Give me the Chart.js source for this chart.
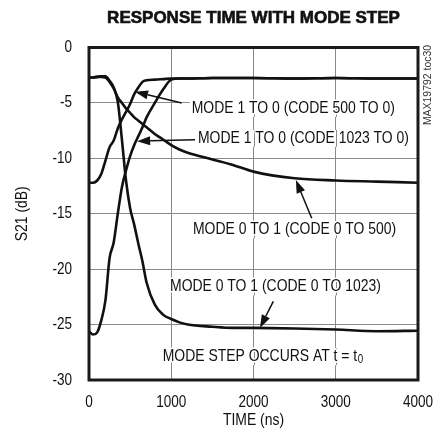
<!DOCTYPE html>
<html>
<head>
<meta charset="utf-8">
<script src="https://cdn.jsdelivr.net/npm/chart.js@4.4.1/dist/chart.umd.min.js"></script>
<style>
html,body{margin:0;padding:0;background:#fff;}
#wrap{width:438px;height:438px;}
</style>
</head>
<body>
<div id="wrap"><canvas id="c" width="438" height="438"></canvas></div>
<script>
// ---- data ----
const timeNs = [0,50,100,150,200,250,300,350,400,450,500,550,600,650,700,800,900,1000,1100,1200,1500,1750,2000,2500,3000,3500,4000];
// MODE 1 TO 0 (CODE 500 TO 0)
const mode1to0code500 = [-12.2,-12.2,-12.0,-11.4,-10.2,-9.0,-8.4,-7.3,-6.5,-5.8,-5.1,-4.2,-3.6,-3.1,-2.95,-2.9,-2.85,-2.8,-2.8,-2.8,-2.75,-2.75,-2.75,-2.8,-2.75,-2.8,-2.8];
// MODE 1 TO 0 (CODE 1023 TO 0)
const mode1to0code1023 = [-25.6,-25.9,-25.7,-24.6,-22.8,-19.0,-17.6,-15.0,-12.6,-11.1,-9.8,-8.8,-8.0,-7.2,-6.3,-5.0,-3.8,-2.9,-2.8,-2.8,-2.75,-2.75,-2.75,-2.8,-2.75,-2.8,-2.8];
// MODE 0 TO 1 (CODE 0 TO 500)
const mode0to1code500 = [-2.7,-2.7,-2.65,-2.65,-2.7,-3.1,-3.7,-4.5,-5.0,-5.5,-5.9,-6.3,-6.6,-6.9,-7.2,-7.8,-8.3,-8.8,-9.2,-9.5,-10.1,-10.6,-11.2,-11.8,-12.0,-12.1,-12.2];
// MODE 0 TO 1 (CODE 0 TO 1023)
const mode0to1code1023 = [-2.7,-2.7,-2.65,-2.6,-2.6,-3.0,-3.6,-4.9,-8.3,-12.0,-14.5,-16.0,-17.7,-19.3,-21.2,-23.2,-24.1,-24.5,-24.8,-25.0,-25.2,-25.3,-25.3,-25.35,-25.45,-25.6,-25.55];

const xTicks = [0,1000,2000,3000,4000];
const yTicks = [0,-5,-10,-15,-20,-25,-30];

const chartTitle = 'RESPONSE TIME WITH MODE STEP';
const xTitle = 'TIME (ns)';
const yTitle = 'S21 (dB)';
const sideCode = 'MAX19792 toc30';
const labelTexts = ['MODE 1 TO 0 (CODE 500 TO 0)','MODE 1 TO 0 (CODE 1023 TO 0)','MODE 0 TO 1 (CODE 0 TO 500)','MODE 0 TO 1 (CODE 0 TO 1023)','MODE STEP OCCURS AT t = t'];

// annotation anchors in data units (time ns, dB)
const annos = [
  {text:labelTexts[0], x:1249, y:-5.45, from:[1127,-5.0], to:[559,-4.0], boxEnd:4000},
  {text:labelTexts[1], x:1325, y:-8.15, from:[1289,-8.33], to:[585,-8.45]},
  {text:labelTexts[2], x:1264, y:-16.4, from:[2708,-15.4], to:[2515,-11.95]},
  {text:labelTexts[3], x:985,  y:-21.55, from:[2241,-22.9], to:[2079,-25.3]},
  {text:labelTexts[4], x:896,  y:-27.85, sub:'0'}
];

const FAM = "'Liberation Sans',Arial,sans-serif";
const SX = 0.82; // condensed look

function mk(ys){ return timeNs.map((t,i)=>({x:t,y:ys[i]})); }
const seriesList = [mode1to0code500, mode1to0code1023, mode0to1code500, mode0to1code1023];

function txt(ctx, s, x, y, size, align, opts){
  opts = opts || {};
  ctx.save();
  ctx.font = (opts.bold?'bold ':'') + size + 'px ' + FAM;
  ctx.textAlign = align; ctx.textBaseline = 'middle';
  ctx.fillStyle = opts.color || '#111';
  ctx.translate(x, y);
  if (opts.rot) ctx.rotate(opts.rot);
  ctx.scale(opts.sx || SX, 1);
  if (opts.halo){ ctx.lineWidth = opts.halo; ctx.strokeStyle = '#fff'; ctx.lineJoin='round'; ctx.strokeText(s,0,0); }
  ctx.fillText(s, 0, 0);
  if (opts.stroke){ ctx.lineWidth = opts.stroke; ctx.strokeStyle = ctx.fillStyle; ctx.strokeText(s,0,0); }
  ctx.restore();
}
function txtW(ctx, s, size){
  ctx.save(); ctx.font = size + 'px ' + FAM; const w = ctx.measureText(s).width * SX; ctx.restore(); return w;
}

const annoPlugin = {
  id:'annoPlugin',
  beforeDatasetsDraw(chart){
    const ctx = chart.ctx, xs = chart.scales.x, ys = chart.scales.y;
    annos.forEach(a=>{
      const px = xs.getPixelForValue(a.x), py = ys.getPixelForValue(a.y);
      let w = txtW(ctx, a.text, 17);
      const tw = w;
      if (a.sub) w += 7;
      let right = px + w + 2;
      if (a.boxEnd) right = xs.getPixelForValue(a.boxEnd);
      ctx.save();
      ctx.fillStyle = '#fff';
      ctx.fillRect(px-2, py-8, right-px+2, 17);
      // vertical grid lines stay visible through the label area
      ctx.strokeStyle = '#8a8a8a'; ctx.lineWidth = 1;
      xs.ticks.forEach(t=>{
        const gx = Math.round(xs.getPixelForValue(t.value)) + 0.5;
        if (gx > px-2 && gx < right && t.value > 0 && t.value < 4000){
          ctx.beginPath(); ctx.moveTo(gx, py-8); ctx.lineTo(gx, py+9); ctx.stroke();
        }
      });
      ctx.restore();
      txt(ctx, a.text, px, py, 17, 'left', {halo:3});
      if (a.sub) txt(ctx, a.sub, px+tw+0.5, py+4, 12, 'left', {halo:2});
    });
  },
  afterDatasetsDraw(chart){
    const ctx = chart.ctx, xs = chart.scales.x, ys = chart.scales.y, ca = chart.chartArea;
    ctx.save();
    ctx.strokeStyle = '#111'; ctx.fillStyle = '#111'; ctx.lineWidth = 1.5;
    annos.forEach(a=>{
      if(!a.from) return;
      const x1 = xs.getPixelForValue(a.from[0]), y1 = ys.getPixelForValue(a.from[1]);
      const x2 = xs.getPixelForValue(a.to[0]), y2 = ys.getPixelForValue(a.to[1]);
      const ang = Math.atan2(y2-y1, x2-x1);
      const L = 13, H = 4.5;
      const bx = x2 - L*Math.cos(ang), by = y2 - L*Math.sin(ang);
      ctx.beginPath(); ctx.moveTo(x1,y1); ctx.lineTo(bx,by); ctx.stroke();
      ctx.beginPath();
      ctx.moveTo(x2,y2);
      ctx.lineTo(bx + H*Math.sin(ang), by - H*Math.cos(ang));
      ctx.lineTo(bx - H*Math.sin(ang), by + H*Math.cos(ang));
      ctx.closePath(); ctx.fill();
    });
    ctx.lineWidth = 3; ctx.strokeStyle = '#1a1a1a';
    ctx.strokeRect(ca.left, ca.top, ca.right-ca.left, ca.bottom-ca.top);
    ctx.restore();
  },
  afterDraw(chart){
    const ctx = chart.ctx, ca = chart.chartArea, xs = chart.scales.x, ys = chart.scales.y;
    // tick labels placed through the chart's own scales
    xs.ticks.forEach(t=> txt(ctx, String(t.value), xs.getPixelForValue(t.value), 402, 16.5, 'center'));
    ys.ticks.forEach(t=> txt(ctx, String(t.value), 72, ys.getPixelForValue(t.value), 16.5, 'right'));
    txt(ctx, xTitle, (ca.left+ca.right)/2, 420, 17, 'center');
    txt(ctx, yTitle, 22, (ca.top+ca.bottom)/2, 17, 'center', {rot:-Math.PI/2});
    txt(ctx, chartTitle, (ca.left+ca.right)/2, 18, 17, 'center', {bold:true, sx:1, stroke:0.6});
    txt(ctx, sideCode, 428, 85, 11, 'center', {rot:-Math.PI/2, color:'#333', sx:0.95});
  }
};

new Chart(document.getElementById('c'), {
  type:'line',
  data:{
    datasets: seriesList.map((s,i)=>({
      label: labelTexts[i],
      data: mk(s),
      borderColor:'#111',
      borderWidth:2.6,
      pointRadius:0,
      fill:false,
      cubicInterpolationMode:'monotone'
    }))
  },
  options:{
    responsive:false,
    devicePixelRatio:1,
    animation:false,
    layout:{padding:{left:0,right:20,top:47.5,bottom:0}},
    plugins:{legend:{display:false}, tooltip:{enabled:false}, title:{display:false}},
    scales:{
      x:{
        type:'linear', min:0, max:4000,
        afterBuildTicks(s){ s.ticks = xTicks.map(v=>({value:v})); },
        afterFit(s){ s.height = 58; },
        grid:{color:'#8a8a8a', lineWidth:1, drawTicks:false},
        border:{display:false},
        ticks:{display:false},
        title:{display:false, text:xTitle}
      },
      y:{
        type:'linear', min:-30, max:0,
        afterBuildTicks(s){ s.ticks = yTicks.map(v=>({value:v})); },
        afterFit(s){ s.width = 89; },
        grid:{color:'#8a8a8a', lineWidth:1, drawTicks:false},
        border:{display:false},
        ticks:{display:false},
        title:{display:false, text:yTitle}
      }
    }
  },
  plugins:[annoPlugin]
});
</script>
</body>
</html>
